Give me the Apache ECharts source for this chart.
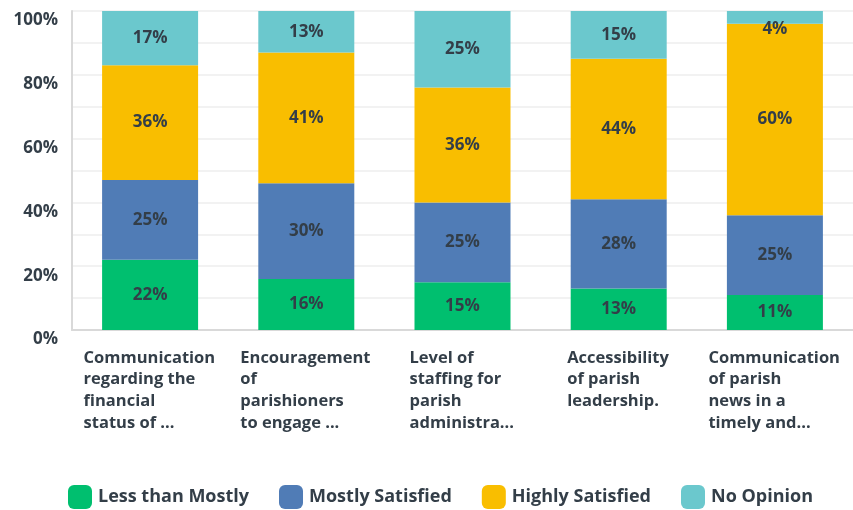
<!DOCTYPE html>
<html>
<head>
<meta charset="utf-8">
<script src="https://cdn.jsdelivr.net/npm/echarts@6/dist/echarts.min.js"></script>
<style>
html,body{margin:0;padding:0;background:#fff;}
#chart{width:853px;height:510px;}
</style>
</head>
<body>
<div id="chart"></div>
<script>
const categories = [
  "Communication\nregarding the\nfinancial\nstatus of ...",
  "Encouragement\nof\nparishioners\nto engage ...",
  "Level of\nstaffing for\nparish\nadministra...",
  "Accessibility\nof parish\nleadership.",
  "Communication\nof parish\nnews in a\ntimely and..."
];
const seriesNames = ["Less than Mostly", "Mostly Satisfied", "Highly Satisfied", "No Opinion"];
const lessThanMostly = [22, 16, 15, 13, 11];
const mostlySatisfied = [25, 30, 25, 28, 25];
const highlySatisfied = [36, 41, 36, 44, 60];
const noOpinion = [17, 13, 25, 15, 4];
const yTicks = [0, 20, 40, 60, 80, 100];

const colors = ["#00BF6F", "#507CB6", "#F9BE00", "#6BC8CD"];
const textColor = "#333e48";
const FONT = "'Open Sans', 'Noto Sans', sans-serif";

const xFontSize = 16.5;
const ctx = document.createElement('canvas').getContext('2d');
ctx.font = "bold " + xFontSize + "px 'Open Sans'";
const rich = {};
categories.forEach((c, i) => {
  const w = Math.max(...c.split('\n').map(l => ctx.measureText(l).width));
  rich['c' + i] = {
    width: Math.ceil(w) + 1,
    align: 'left',
    fontSize: xFontSize,
    fontWeight: 'bold',
    fontFamily: FONT,
    color: textColor,
    lineHeight: 21.7
  };
});

const values = [lessThanMostly, mostlySatisfied, highlySatisfied, noOpinion];

const chart = echarts.init(document.getElementById('chart'), null, {renderer: 'canvas'});
chart.setOption({
  animation: false,
  color: colors,
  grid: {left: 72, right: -9, top: 11, bottom: 180, containLabel: false},
  legend: {
    left: 68,
    top: 485,
    padding: 0,
    icon: 'roundRect',
    itemWidth: 24,
    itemHeight: 24,
    itemGap: 30,
    data: seriesNames,
    textStyle: {fontSize: 18, fontWeight: 'bold', fontFamily: FONT, color: textColor, padding: [0, 0, 0, 1]}
  },
  xAxis: {
    type: 'category',
    data: categories,
    axisLine: {lineStyle: {color: '#d9d9d9', width: 2}},
    axisTick: {show: false},
    axisLabel: {
      interval: 0,
      margin: 17,
      align: 'center',
      formatter: (v, idx) => v.split('\n').map(l => '{c' + idx + '|' + l + '}').join('\n'),
      rich: rich
    }
  },
  yAxis: {
    type: 'value',
    min: 0,
    max: 100,
    interval: 10,
    axisLine: {show: true, lineStyle: {color: '#d9d9d9', width: 2}},
    axisTick: {show: false},
    splitLine: {lineStyle: {color: '#eeeeee', width: 1.5}},
    axisLabel: {
      margin: 14,
      verticalAlign: 'top',
      lineHeight: 19,
      fontSize: 17,
      fontWeight: 'bold',
      fontFamily: FONT,
      color: textColor,
      formatter: v => yTicks.includes(v) ? v + '%' : ''
    }
  },
  series: seriesNames.map((name, si) => ({
    name: name,
    type: 'bar',
    stack: 'total',
    barWidth: 96,
    data: values[si].map(v => v < 6 ? {value: v, label: {offset: [0, 12]}} : v),
    label: {
      show: true,
      position: 'inside',
      formatter: p => p.value + '%',
      fontSize: 17,
      fontWeight: 'bold',
      fontFamily: FONT,
      color: textColor,
      textShadowColor: '#ffffff',
      textShadowOffsetX: 1,
      textShadowOffsetY: 1.5,
      textShadowBlur: 0
    }
  }))
});
</script>
</body>
</html>
